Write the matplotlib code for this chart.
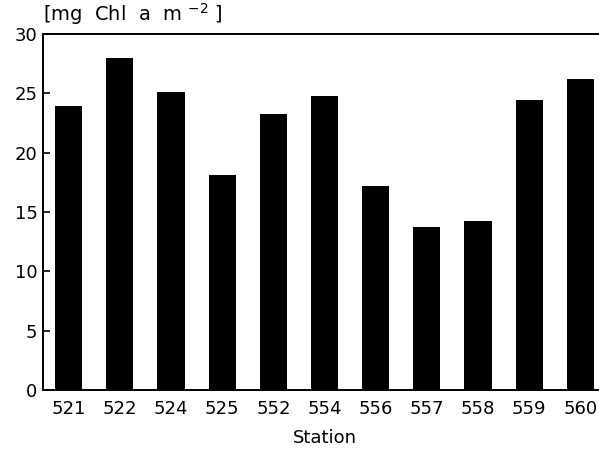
import numpy as np
import matplotlib.pyplot as plt

stations = ["521", "522", "524", "525", "552", "554", "556", "557", "558", "559", "560"]
chl = [23.9, 28.0, 25.1, 18.1, 23.3, 24.8, 17.2, 13.7, 14.2, 24.4, 26.2]

fig = plt.figure(figsize=(5.99, 4.49), dpi=100)
ax = fig.add_axes([43 / 599, 59 / 449, 563 / 599, 356 / 449])

x = np.arange(len(stations))
ax.bar(x, chl, width=0.53, color="black")

ax.set_xlim(-0.5, 10.5)
ax.set_ylim(0, 30)
ax.set_yticks(range(0, 31, 5))
ax.set_xticks(x)
ax.set_xticklabels(stations)
ax.tick_params(axis="y", direction="in", length=5, width=1.2, labelsize=13, pad=4)
ax.tick_params(axis="x", length=0, labelsize=13, pad=7)
for s in ["left", "bottom", "top"]:
    ax.spines[s].set_linewidth(1.4)
ax.spines["right"].set_visible(False)

ax.set_xlabel("Station", fontsize=13, labelpad=8)
ax.text(0.0, 1.02, r"[mg  Chl  a  m $^{-2}$ ]", transform=ax.transAxes,
        fontsize=14, ha="left", va="bottom")

fig.savefig("out.png", dpi=100)
